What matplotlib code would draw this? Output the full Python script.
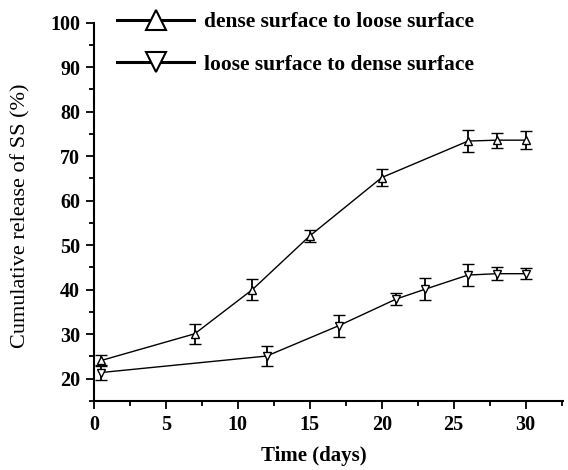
import numpy as np
import matplotlib
matplotlib.use("Agg")
import matplotlib.pyplot as plt
import matplotlib.ticker as ticker
from matplotlib.lines import Line2D

plt.rcParams['font.family'] = ['Liberation Serif', 'DejaVu Serif']

# dense surface to loose surface
dense_days = [0.5, 7, 11, 15, 20, 26, 28, 30]
dense_release = [24.1, 30.1, 40.0, 52.1, 65.2, 73.4, 73.6, 73.6]
dense_err = [1.2, 2.2, 2.4, 1.4, 2.0, 2.5, 1.7, 2.0]

# loose surface to dense surface
loose_days = [0.5, 12, 17, 21, 23, 26, 28, 30]
loose_release = [21.4, 25.1, 31.9, 37.9, 40.1, 43.3, 43.6, 43.6]
loose_err = [1.7, 2.2, 2.5, 1.3, 2.5, 2.4, 1.4, 1.3]

labels = ['dense surface to loose surface', 'loose surface to dense surface']

fig = plt.figure(figsize=(5.68, 4.70), dpi=100)
ax = fig.add_axes([0.1655, 0.1468, 0.8257, 0.805])

ax.errorbar(dense_days, dense_release, yerr=dense_err, color='black', lw=1.0,
            marker='^', ms=6, mfc='white', mec='black', mew=1.0,
            ecolor='black', elinewidth=1.3, capsize=4, capthick=1.3)
ax.errorbar(loose_days, loose_release, yerr=loose_err, color='black', lw=1.0,
            marker='v', ms=6, mfc='white', mec='black', mew=1.0,
            ecolor='black', elinewidth=1.3, capsize=4, capthick=1.3)

ax.set_xlim(0, 32.6)
ax.set_ylim(15, 100)
ax.spines['top'].set_visible(False)
ax.spines['right'].set_visible(False)
for s in ['left', 'bottom']:
    ax.spines[s].set_linewidth(1.5)

ax.xaxis.set_major_locator(ticker.MultipleLocator(5))
ax.xaxis.set_minor_locator(ticker.MultipleLocator(2.5))
ax.yaxis.set_major_locator(ticker.MultipleLocator(10))
ax.yaxis.set_minor_locator(ticker.MultipleLocator(5))
ax.set_yticks([20, 30, 40, 50, 60, 70, 80, 90, 100])
ax.tick_params(which='major', direction='out', length=6, width=1.3, pad=4,
               labelsize=14.5)
ax.tick_params(which='minor', direction='out', length=3.5, width=1.3)
for lab in ax.get_xticklabels() + ax.get_yticklabels():
    lab.set_fontweight('bold')

ax.set_xlabel('Time (days)', fontsize=15, fontweight='bold')
ax.xaxis.set_label_coords(0.468, -0.12)
ax.set_ylabel('Cumulative release of SS (%)', fontsize=16)
ax.yaxis.set_label_coords(-0.135, 0.49)

handles = [Line2D([], [], color='black', lw=2.2, marker='^', ms=14,
                  mfc='white', mec='black', mew=1.5),
           Line2D([], [], color='black', lw=2.2, marker='v', ms=14,
                  mfc='white', mec='black', mew=1.5)]
leg = ax.legend(handles, labels, loc='upper left', bbox_to_anchor=(0.049, 1.028),
                frameon=False, borderpad=0, borderaxespad=0, handlelength=3.6,
                handletextpad=0.45, labelspacing=1.05, numpoints=1,
                prop={'family': 'Liberation Serif', 'weight': 'bold', 'size': 15.5})

fig.savefig('out.png', dpi=100)
